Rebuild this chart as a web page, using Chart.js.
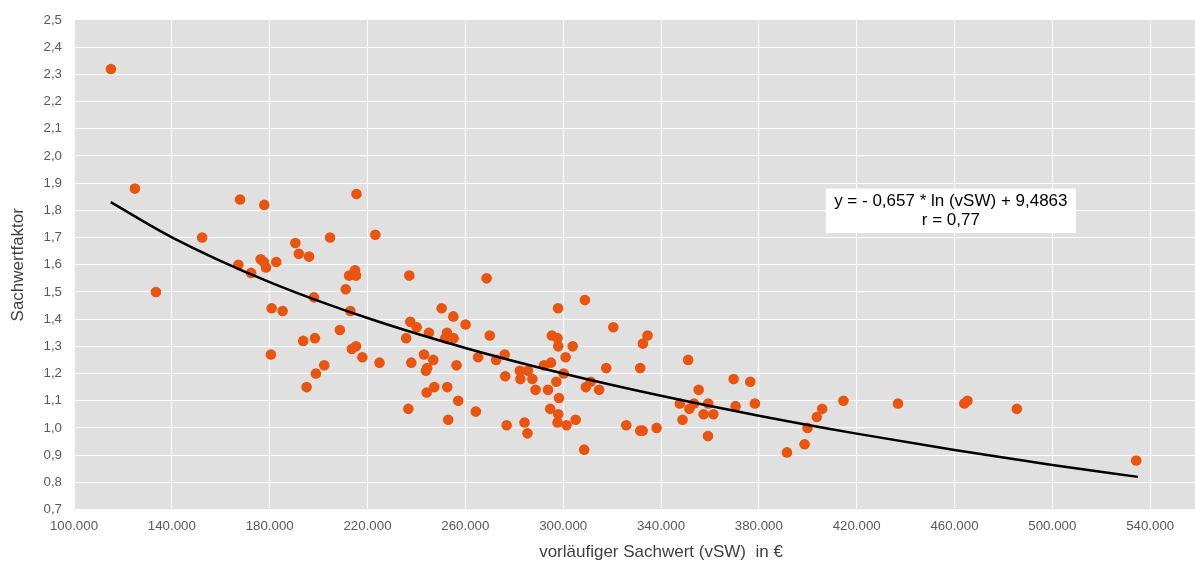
<!DOCTYPE html>
<html>
<head>
<meta charset="utf-8">
<script src="https://cdn.jsdelivr.net/npm/chart.js@4/dist/chart.umd.min.js"></script>
<style>
  html, body { margin: 0; padding: 0; background: #fff; overflow: hidden; }
  /* the original picture is cut off on the right, so the chart runs past the window */
  #wrap { width: 1300px; height: 564px; }
</style>
</head>
<body>
<div id="wrap"><canvas id="chart"></canvas></div>
<script>
"use strict";

// vorläufiger Sachwert (vSW) in € / Sachwertfaktor
const vsw = [
  115100, 124900, 133500, 152400, 167900, 177800, 190500, 191900, 196100, 204700,
  176300, 177600, 178500, 182700, 167200, 172400, 180800, 185300, 198100, 193700,
  198500, 208700, 180500, 202300, 198900, 195100, 215500, 223200, 214900, 212500,
  215300, 237100, 268700, 211100, 213000, 213600, 215300, 217900, 224900, 235800,
  237500, 240100, 245100, 250300, 255100, 260100, 252500, 251800, 255200, 270000,
  265200, 237900, 243100, 246900, 244400, 243900, 256400, 247300, 252600, 244200,
  257100, 236700, 264300, 253000, 272600, 276100, 276300, 282300, 285600, 282500,
  287400, 288700, 292200, 295000, 297900, 295400, 297700, 298000, 303900, 301000,
  300200, 297200, 293800, 298300, 294700, 298000, 297700, 301400, 305100, 308900,
  320500, 317600, 309300, 311200, 314700, 308600, 276900, 284200, 285400, 325800,
  331500, 332500, 338200, 331500, 332600, 334500, 351100, 355400, 347700, 353500,
  351600, 348800, 359300, 357400, 361400, 359200, 369700, 376500, 370500, 378400,
  391500, 398700, 399900, 403700, 405900, 414600, 436900, 464000, 465300, 485500,
  534300
];
const faktor = [
  2.32, 1.88, 1.50, 1.70, 1.84, 1.82, 1.68, 1.64, 1.63, 1.70,
  1.62, 1.61, 1.59, 1.61, 1.60, 1.57, 1.44, 1.43, 1.48, 1.32,
  1.33, 1.36, 1.27, 1.23, 1.20, 1.15, 1.86, 1.71, 1.58, 1.56,
  1.56, 1.56, 1.55, 1.51, 1.43, 1.29, 1.30, 1.26, 1.24, 1.33,
  1.39, 1.37, 1.35, 1.44, 1.41, 1.38, 1.35, 1.33, 1.33, 1.34,
  1.26, 1.24, 1.27, 1.25, 1.22, 1.21, 1.23, 1.15, 1.15, 1.13,
  1.10, 1.07, 1.06, 1.03, 1.25, 1.27, 1.19, 1.21, 1.21, 1.18,
  1.18, 1.14, 1.23, 1.24, 1.44, 1.34, 1.33, 1.30, 1.30, 1.26,
  1.20, 1.17, 1.14, 1.11, 1.07, 1.05, 1.02, 1.01, 1.03, 1.47,
  1.37, 1.22, 1.15, 1.17, 1.14, 0.92, 1.01, 1.02, 0.98, 1.01,
  0.99, 0.99, 1.00, 1.22, 1.31, 1.34, 1.25, 1.14, 1.09, 1.09,
  1.07, 1.03, 1.09, 1.05, 1.05, 0.97, 1.18, 1.17, 1.08, 1.09,
  0.91, 0.94, 1.00, 1.04, 1.07, 1.10, 1.09, 1.09, 1.10, 1.07,
  0.88
];

// logarithmic trend line as drawn in the picture
const trendX = [115000, 140000, 180000, 220000, 260000, 300000, 340000, 380000, 420000, 460000, 500000, 535000];
const trendY = [1.830, 1.701, 1.536, 1.404, 1.294, 1.200, 1.118, 1.045, 0.979, 0.919, 0.864, 0.820];

const xTicks = [100000, 140000, 180000, 220000, 260000, 300000, 340000, 380000, 420000, 460000, 500000, 540000, 580000];
const yTicks = [0.7, 0.8, 0.9, 1.0, 1.1, 1.2, 1.3, 1.4, 1.5, 1.6, 1.7, 1.8, 1.9, 2.0, 2.1, 2.2, 2.3, 2.4, 2.5];

const xTitle = 'vorläufiger Sachwert (vSW)  in €';
const yTitle = 'Sachwertfaktor';
const equationLines = ['y = - 0,657 * ln (vSW) + 9,4863', 'r = 0,77'];
// box corners in axis units
const equationBox = {x1: 407400, x2: 509600, y1: 1.88, y2: 1.717};

const FONT = '"Liberation Sans", Arial, sans-serif';

const fmtThousands = function(v) {
  return String(Math.round(v)).replace(/\B(?=(\d{3})+(?!\d))/g, '.');
};

const plotBackground = {
  id: 'plotBackground',
  beforeDraw(chart) {
    const {ctx, chartArea: a} = chart;
    ctx.save();
    ctx.fillStyle = '#e0e0e0';
    ctx.fillRect(a.left, a.top, a.right - a.left, a.bottom - a.top);
    ctx.restore();
  }
};

const equationLabel = {
  id: 'equationLabel',
  afterDraw(chart) {
    const {ctx, scales: {x, y}} = chart;
    const left = x.getPixelForValue(equationBox.x1);
    const right = x.getPixelForValue(equationBox.x2);
    const top = y.getPixelForValue(equationBox.y1);
    const bottom = y.getPixelForValue(equationBox.y2);
    ctx.save();
    ctx.fillStyle = '#ffffff';
    ctx.fillRect(left, top, right - left, bottom - top);
    ctx.fillStyle = '#000000';
    ctx.font = '17px ' + FONT;
    ctx.textAlign = 'center';
    ctx.textBaseline = 'middle';
    const cx = (left + right) / 2;
    ctx.fillText(equationLines[0], cx, top + 13);
    ctx.fillText(equationLines[1], cx, top + 32);
    ctx.restore();
  }
};

const chart = new Chart('chart', {
  type: 'scatter',
  data: {
    datasets: [{
      label: 'Trend',
      type: 'line',
      data: trendX.map((v, i) => ({x: v, y: trendY[i]})),
      borderColor: '#000000',
      borderWidth: 2.5,
      pointRadius: 0,
      fill: false,
      cubicInterpolationMode: 'monotone',
      order: 0
    }, {
      label: 'Sachwertfaktor',
      data: vsw.map((v, i) => ({x: v, y: faktor[i]})),
      backgroundColor: '#e9540f',
      borderWidth: 0,
      pointRadius: 5.3,
      order: 1
    }]
  },
  options: {
    responsive: true,
    maintainAspectRatio: false,
    animation: false,
    layout: {padding: {top: 18, right: 52, bottom: 0, left: 0}},
    plugins: {legend: {display: false}, tooltip: {enabled: false}},
    scales: {
      x: {
        type: 'linear',
        min: 100000,
        max: 580000,
        afterBuildTicks: (axis) => { axis.ticks = xTicks.map(v => ({value: v})); },
        afterFit: (axis) => { axis.height = 54.5; },
        grid: {color: '#ffffff', lineWidth: 1, drawTicks: false, tickLength: 0},
        border: {display: false},
        ticks: {
          color: '#595959',
          font: {family: FONT, size: 13.3},
          padding: 9,
          maxRotation: 0,
          autoSkip: false,
          callback: (v) => fmtThousands(v)
        },
        title: {display: true, text: xTitle, color: '#404040', font: {family: FONT, size: 17}, padding: {top: 0, bottom: 1}}
      },
      y: {
        min: 0.7,
        max: 2.5,
        afterBuildTicks: (axis) => { axis.ticks = yTicks.map(v => ({value: v})); },
        afterFit: (axis) => { axis.width = 74; },
        grid: {color: '#ffffff', lineWidth: 1, drawTicks: false, tickLength: 0},
        border: {display: false},
        ticks: {
          color: '#595959',
          font: {family: FONT, size: 13.3},
          padding: 12,
          callback: (v) => v.toFixed(1).replace('.', ',')
        },
        title: {display: true, text: yTitle, color: '#404040', font: {family: FONT, size: 17}, padding: {top: 8, bottom: 0}}
      }
    }
  },
  plugins: [plotBackground, equationLabel]
});
</script>
</body>
</html>
